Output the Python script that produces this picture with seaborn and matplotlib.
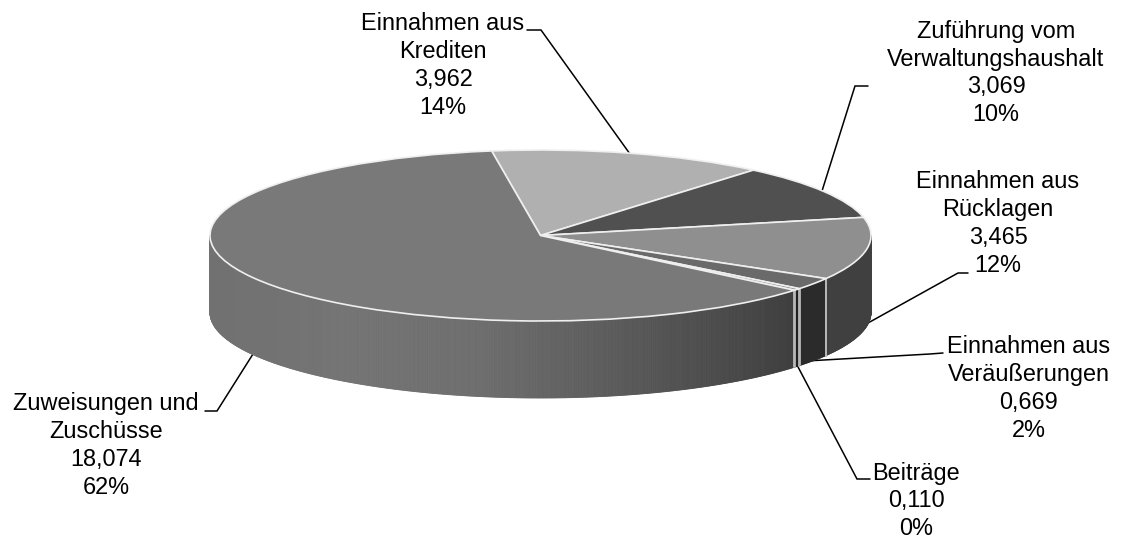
import numpy as np
import matplotlib
matplotlib.use('Agg')
import matplotlib.pyplot as plt
import seaborn as sns

names = ['Einnahmen aus\nKrediten', 'Zuführung vom\nVerwaltungshaushalt', 'Einnahmen aus\nRücklagen',
         'Einnahmen aus\nVeräußerungen', 'Beiträge', 'Zuweisungen und\nZuschüsse']
values = [3.962, 3.069, 3.465, 0.669, 0.110, 18.074]
percents = [14, 10, 12, 2, 0, 62]
top_colors = ['#b0b0b0', '#505050', '#8f8f8f', '#6a6a6a', '#8a8a8a', '#797979']
wall_colors = ['#8a8a8a', '#383838', '#404040', '#2b2b2b', '#202020', None]
label_pos = [(443, 65.5), (996, 73), (998, 223.5), (1029, 388.5), (916, 501), (106, 445.5)]
leaders = [
    [(527, 30), (541, 30), (630, 154)],
    [(868, 86), (855, 86), (822, 191)],
    [(968, 273), (958, 273), (868, 323)],
    [(943, 353), (930, 354), (806, 361)],
    [(870, 479), (857, 479), (797, 365)],
    [(205, 411), (217, 411), (253, 354)],
]
big_wall_stops = ['#717171', '#747474', '#6e6e6e', '#5c5c5c', '#484848', '#333333']

W, H = 1126, 543
CX, CY, RX, RY, DEPTH = 540.5, 235.5, 330.5, 85.5, 77
START = 98.5

sns.set_theme(style='white')
plt.rcParams['font.family'] = ['Liberation Sans', 'DejaVu Sans']

fig = plt.figure(figsize=(W / 100, H / 100), dpi=100, facecolor='white')
ax = fig.add_axes([0, 0, 1, 1])
edge = '#efefef'


def px(x, y):
    return (x - CX) / RX, (CY - y) / RY


ax.pie(values, colors=top_colors, startangle=START, counterclock=False,
       wedgeprops={'edgecolor': edge, 'linewidth': 1.2, 'zorder': 5})
ax.set_aspect('auto')
ax.set_xlim(px(0, 0)[0], px(W, 0)[0])
ax.set_ylim(px(0, H)[1], px(0, 0)[1])
ax.set_axis_off()

# side wall, only the part of the rim facing the viewer
depth = DEPTH / RY
shares = np.array(values) / sum(values) * 360
ends = START - np.cumsum(shares)
starts = ends + shares
big_pal = sns.blend_palette(big_wall_stops, 200)
for a0, a1, col in zip(starts, ends, wall_colors):
    angs = np.arange(a1, a0 + 0.25, 0.25)
    angs = angs[np.sin(np.radians(angs)) <= 0.001]
    for t0, t1 in zip(angs[:-1], angs[1:]):
        x0, x1 = np.cos(np.radians([t0, t1]))
        y0, y1 = np.sin(np.radians([t0, t1]))
        c = col if col else big_pal[int(np.clip((x0 + x1) / 2 * 0.5 + 0.5, 0, 0.999) * 200)]
        ax.fill([x0, x1, x1, x0], [y0, y1, y1 - depth, y0 - depth], color=c, lw=0.6, zorder=2)
    if len(angs):
        for t in (angs[0], angs[-1]):
            if abs(np.cos(np.radians(t))) < 0.99:
                x, y = np.cos(np.radians(t)), np.sin(np.radians(t))
                ax.plot([x, x], [y, y - depth], color='#b8b8b8', lw=1.3, zorder=3)

for pts in leaders:
    xy = [px(*p) for p in pts]
    ax.plot([p[0] for p in xy], [p[1] for p in xy], color='black', lw=1.1, zorder=1,
            solid_joinstyle='miter')

for name, val, pct, pos in zip(names, values, percents, label_pos):
    txt = f"{name}\n{val:.3f}".replace('.', ',') + f"\n{pct}%"
    x, y = px(*pos)
    ax.text(x, y, txt, ha='center', va='center', fontsize=16.9, color='black',
            linespacing=1.27, zorder=6)

fig.savefig('out.png', dpi=100)
